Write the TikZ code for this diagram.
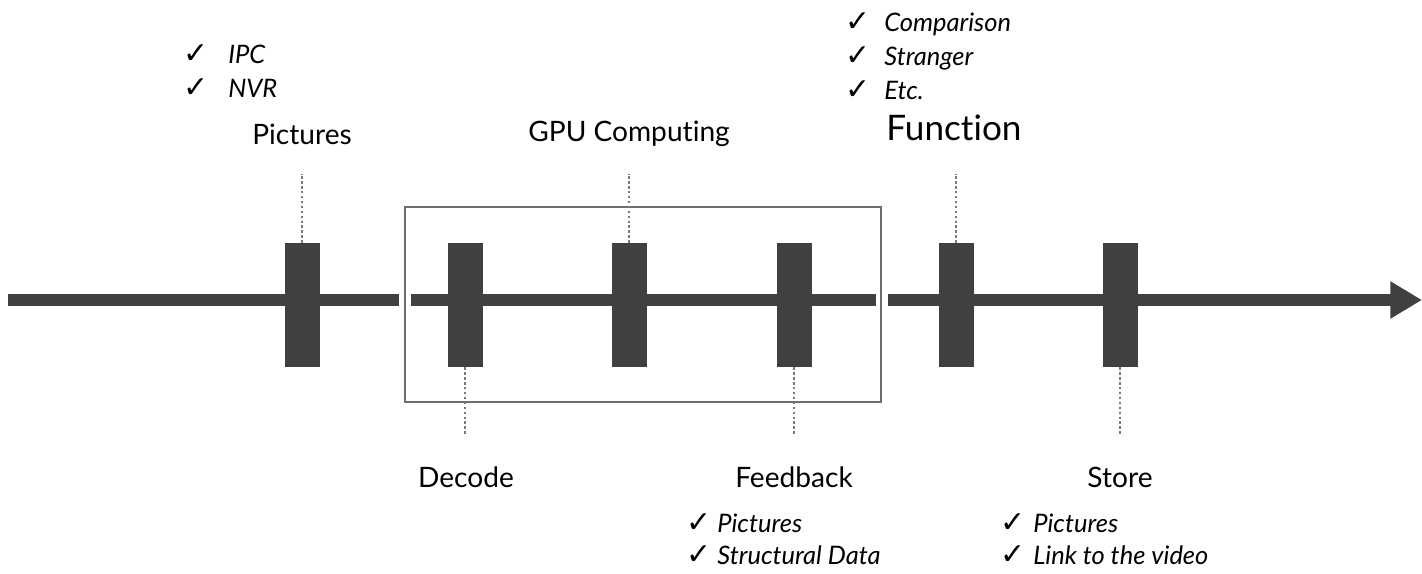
\documentclass[tikz,border=0pt]{standalone}
\usepackage{fontspec}
\setmainfont{Lato}[Ligatures=NoCommon]
\newfontfamily\symfont{DejaVu Sans}
\usetikzlibrary{arrows.meta}

\definecolor{barcol}{HTML}{404040}
\definecolor{boxcol}{HTML}{6E6E6E}
\definecolor{tickcol}{HTML}{7A7A7A}

\newcommand{\chk}[1]{\makebox[#1][l]{\symfont\upshape\fontsize{17}{17}\selectfont ✓}}

\tikzset{
  blk/.style={fill=barcol, minimum width=0.7cm, minimum height=2.48cm, inner sep=0pt},
  tick/.style={draw=tickcol, line width=0.6pt, dash pattern=on 1.4pt off 1.4pt},
  lbl/.style={font=\fontsize{16}{18}\selectfont, inner sep=0pt},
  lst/.style={font=\fontsize{14.5}{19.5}\selectfont\itshape, align=left, inner sep=0pt, anchor=west},
  bar/.style={barcol, line width=6.8pt}
}

\begin{document}
\begin{tikzpicture}[x=0.02cm, y=-0.02cm]
  \useasboundingbox (0,0) rectangle (1422,574);

  % time line
  \draw[bar] (8,300) -- (399,300);
  \draw[bar] (411,300) -- (876,300);
  \draw[bar, -{Triangle[length=18pt, width=20pt]}] (888,300) -- (1422,300);
  \draw[boxcol, line width=0.9pt] (405,207) rectangle (881,402);

  % steps
  \foreach \n/\x in {pic/302, dec/465, gpu/629, fb/794, fun/956, sto/1120} {
    \node[blk] (\n) at (\x,305) {};
  }

  % labels above
  \node[lbl] (picL) at (302,134) {Pictures};
  \node[lbl] (gpuL) at (629,134) {GPU Computing};
  \node[lbl, font=\fontsize{20}{22}\selectfont, anchor=west] (funL) at (886,128) {Function};
  \foreach \n in {pic,gpu,fun} {
    \draw[tick] (\n.north) -- ++(0,-69);
  }

  % labels below
  \node[lbl] (decL) at (466,477) {Decode};
  \node[lbl] (fbL) at (794,477) {Feedback};
  \node[lbl] (stoL) at (1120,477) {Store};
  \foreach \n in {dec,fb,sto} {
    \draw[tick] (\n.south) -- ++(0,67);
  }

  % lists
  \node[lst] (picLst) at (183,71) {\chk{0.9cm}IPC\\\chk{0.9cm}NVR};
  \node[lst] (funLst) at (845,56) {\chk{0.78cm}Comparison\\\chk{0.78cm}Stranger\\\chk{0.78cm}Etc.};
  \node[lst, font=\fontsize{14.5}{18}\selectfont\itshape] (fbLst) at (686,539) {\chk{0.62cm}Pictures\\\chk{0.62cm}Structural Data};
  \node[lst, font=\fontsize{14.5}{18}\selectfont\itshape] (stoLst) at (1000,539) {\chk{0.66cm}Pictures\\\chk{0.66cm}Link to the video};
\end{tikzpicture}
\end{document}
